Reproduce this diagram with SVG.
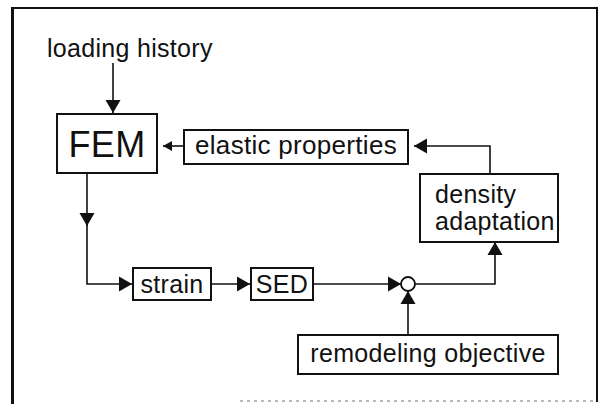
<svg xmlns="http://www.w3.org/2000/svg" width="604" height="404" viewBox="0 0 604 404">
<style>
  .box { fill: #fff; stroke: #111; stroke-width: 2; }
  .lbl { font-family: "Liberation Sans", Arial, sans-serif; font-size: 25px; fill: #111; letter-spacing: 0.3px; }
  .mid { text-anchor: middle; }
  .con { fill: none; stroke: #111; stroke-width: 1.6; }
  .frame { fill: none; stroke: #111; }
</style>
<defs>
  <marker id="arr" markerUnits="userSpaceOnUse" markerWidth="14" markerHeight="16" refX="13" refY="8" orient="auto">
    <path d="M0,0.5 L13,8 L0,15.5 z" fill="#111"/>
  </marker>
  <marker id="arrs" markerUnits="userSpaceOnUse" markerWidth="10" markerHeight="12" refX="9" refY="6" orient="auto">
    <path d="M0,1 L9,6 L0,11 z" fill="#111"/>
  </marker>
</defs>
<rect width="604" height="404" fill="#fff"/>
<g id="frame">
  <line class="frame" x1="12.5" y1="7" x2="12.5" y2="404" stroke-width="3"/>
  <line class="frame" x1="11" y1="8" x2="598" y2="8" stroke-width="2"/>
  <line class="frame" x1="597" y1="7" x2="597" y2="402" stroke-width="2"/>
  <line class="frame" x1="240" y1="401" x2="597" y2="401" stroke-width="1" stroke-dasharray="3,4" opacity="0.6"/>
</g>
<g id="connectors">
  <path class="con" d="M113,63 V113" marker-end="url(#arr)"/>
  <path class="con" d="M184,146 H163" marker-end="url(#arrs)"/>
  <path class="con" d="M87,173 V226" marker-end="url(#arr)"/>
  <path class="con" d="M87,224 V284 H132" marker-end="url(#arr)"/>
  <path class="con" d="M211,284 H250" marker-end="url(#arr)"/>
  <path class="con" d="M314,284 H401" marker-end="url(#arr)"/>
  <path class="con" d="M408,335 V291" marker-end="url(#arr)"/>
  <path class="con" d="M415,284 H495 V242" marker-end="url(#arr)"/>
  <path class="con" d="M490,174 V146 H414" marker-end="url(#arr)"/>
</g>
<g id="loading-history">
  <text class="lbl" x="47" y="57">loading history</text>
</g>
<g id="fem">
  <rect class="box" x="57" y="114" width="100" height="59"/>
  <text class="lbl mid" x="107" y="157" style="font-size:36px">FEM</text>
</g>
<g id="elastic-properties">
  <rect class="box" x="184" y="130" width="224" height="34"/>
  <text class="lbl mid" x="296" y="154" style="font-size:26px">elastic properties</text>
</g>
<g id="density-adaptation">
  <rect class="box" x="420" y="174" width="138" height="68"/>
  <text class="lbl" x="435" y="203">density</text>
  <text class="lbl" x="435" y="230">adaptation</text>
</g>
<g id="strain">
  <rect class="box" x="133" y="268" width="78" height="32"/>
  <text class="lbl mid" x="172" y="293">strain</text>
</g>
<g id="sed">
  <rect class="box" x="251" y="268" width="62" height="32"/>
  <text class="lbl mid" x="282" y="293">SED</text>
</g>
<g id="comparator">
  <circle cx="408" cy="284" r="7" fill="#fff" stroke="#111" stroke-width="1.8"/>
</g>
<g id="remodeling-objective">
  <rect class="box" x="298" y="335" width="260" height="39"/>
  <text class="lbl mid" x="428" y="362">remodeling objective</text>
</g>
</svg>
